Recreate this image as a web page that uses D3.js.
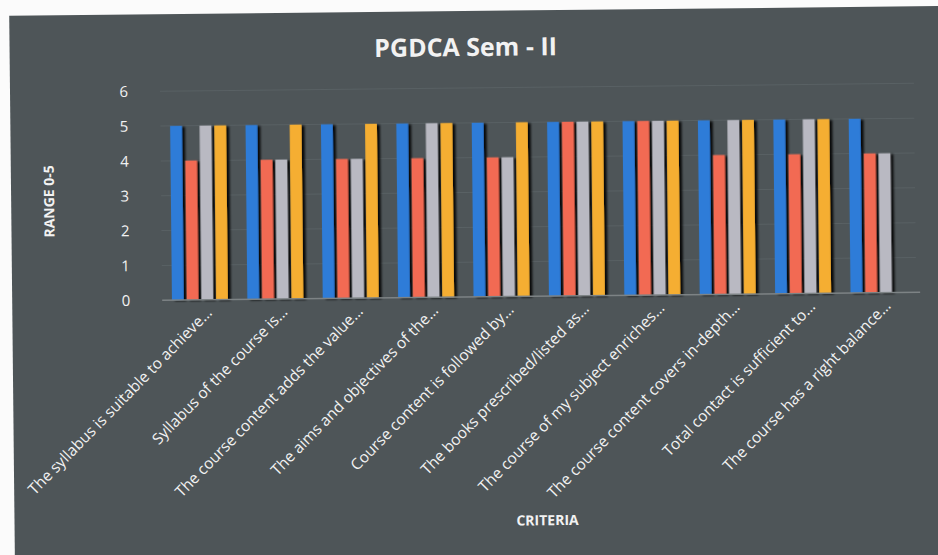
<!DOCTYPE html>
<html>
<head>
<meta charset="utf-8">
<script src="https://cdnjs.cloudflare.com/ajax/libs/d3/7.8.5/d3.min.js"></script>
<style>
  body { margin: 0; background: #fbfbfb; overflow: hidden; }
  svg { display: block; }
  text { font-family: "Open Sans", "Noto Sans", sans-serif; fill: #f2f2f2; }
</style>
</head>
<body>
<div id="chart"></div>
<script>
// chart data
var categories = [
  "The syllabus is suitable to achieve\u2026",
  "Syllabus of the course is\u2026",
  "The course content adds the value\u2026",
  "The aims and objectives of the\u2026",
  "Course content is followed by\u2026",
  "The books prescribed/listed as\u2026",
  "The course of my subject enriches\u2026",
  "The course content covers in-depth\u2026",
  "Total contact is sufficient to\u2026",
  "The course has a right balance\u2026"
];
var series1 = [5, 5, 5, 5, 5, 5, 5, 5, 5, 5];
var series2 = [4, 4, 4, 4, 4, 5, 5, 4, 4, 4];
var series3 = [5, 4, 4, 5, 4, 5, 5, 5, 5, 4];
var series4 = [5, 5, 5, 5, 5, 5, 5, 5, 5, null];
var yTicks = [0, 1, 2, 3, 4, 5, 6];
var colors = ["#2f7bd8", "#f26b52", "#b9b9c2", "#f5ae32"];

var W = 938, H = 555;
var svg = d3.select("#chart").append("svg").attr("width", W).attr("height", H);

var defs = svg.append("defs");
defs.append("filter").attr("id", "shadow").attr("x", "-30%").attr("width", "180%")
  .append("feDropShadow")
  .attr("dx", 3).attr("dy", 1).attr("stdDeviation", 0.8)
  .attr("flood-color", "#000").attr("flood-opacity", 0.9);

// whole printed page is slightly tilted
var page = svg.append("g").attr("transform", "rotate(-0.6,470,280)");

page.append("rect")
  .attr("x", 12).attr("y", 11).attr("width", 960).attr("height", 600)
  .attr("fill", "#4e5558");

var x0 = d3.scaleBand().domain(categories).range([162, 916])
  .paddingInner(0.18).paddingOuter(0.09);
var x1 = d3.scaleBand().domain([0, 1, 2, 3]).range([0, x0.bandwidth()]).padding(0.2);
var y = d3.scaleLinear().domain([0, 6]).range([297, 88]);

// grid
page.append("g").selectAll("line").data(yTicks.slice(1)).enter().append("line")
  .attr("x1", 162).attr("x2", 916)
  .attr("y1", function(d) { return y(d); }).attr("y2", function(d) { return y(d); })
  .attr("stroke", "#596164").attr("stroke-width", 1);

var yAxis = page.append("g").attr("transform", "translate(162,0)")
  .call(d3.axisLeft(y).tickValues(yTicks).tickFormat(d3.format("d")).tickSize(0).tickPadding(32));
yAxis.select(".domain").remove();
yAxis.selectAll("text").attr("font-size", 15).attr("fill", "#ececec")
  .style("font-family", "'Open Sans', sans-serif");

var allSeries = [series1, series2, series3, series4];
var rows = categories.map(function(c, i) {
  return allSeries.map(function(s, k) { return {cat: c, k: k, v: s[i]}; });
});

var groups = page.append("g").selectAll("g").data(rows).enter().append("g")
  .attr("transform", function(d) { return "translate(" + x0(d[0].cat) + ",0)"; });

groups.selectAll("rect")
  .data(function(d) { return d.filter(function(e) { return e.v != null; }); })
  .enter().append("rect")
  .attr("x", function(d) { return x1(d.k); })
  .attr("y", function(d) { return y(d.v); })
  .attr("width", x1.bandwidth())
  .attr("height", function(d) { return y(0) - y(d.v); })
  .attr("fill", function(d) { return colors[d.k]; })
  .attr("filter", "url(#shadow)");

// x axis line
page.append("line").attr("x1", 162).attr("x2", 920).attr("y1", y(0)).attr("y2", y(0))
  .attr("stroke", "#7d8385").attr("stroke-width", 1.5);

// category labels
page.append("g").selectAll("text").data(categories).enter().append("text")
  .attr("transform", function(d) {
    return "translate(" + (x0(d) + x0.bandwidth() / 2 + 13) + "," + (y(0) + 14) + ") rotate(-45)";
  })
  .attr("text-anchor", "end")
  .attr("font-size", 15.5)
  .text(function(d) { return d; });

page.append("text").attr("x", 468).attr("y", 56).attr("text-anchor", "middle")
  .attr("font-size", 25).attr("font-weight", "bold").attr("fill", "#ffffff")
  .text("PGDCA Sem - II");

page.append("text").attr("x", 545).attr("y", 526).attr("text-anchor", "middle")
  .attr("font-size", 14).attr("font-weight", "bold")
  .text("CRITERIA");

page.append("text").attr("transform", "translate(55,197) rotate(-90)")
  .attr("text-anchor", "middle").attr("font-size", 14).attr("font-weight", "bold")
  .text("RANGE 0-5");
</script>
</body>
</html>
